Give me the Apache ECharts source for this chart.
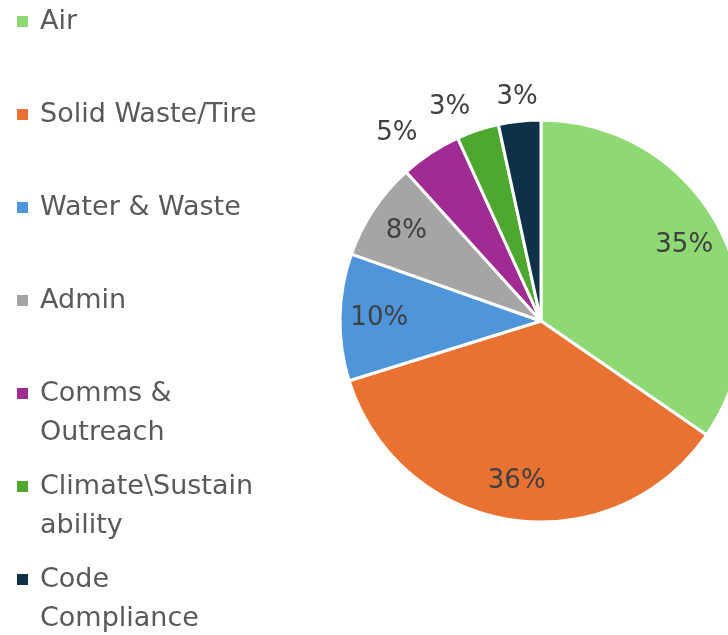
<!DOCTYPE html>
<html>
<head>
<meta charset="utf-8">
<script src="https://cdn.jsdelivr.net/npm/echarts@6/dist/echarts.min.js"></script>
<style>
  html, body { margin: 0; padding: 0; background: #fff; }
  #chart { width: 728px; height: 635px; }
</style>
</head>
<body>
<div id="chart"></div>
<script>
const CATEGORIES = ['Air', 'Solid Waste/Tire', 'Water & Waste', 'Admin', 'Comms & Outreach', 'Climate\\Sustainability', 'Code Compliance'];
const LEGEND_LABELS = ['Air', 'Solid Waste/Tire', 'Water & Waste', 'Admin', 'Comms &\nOutreach', 'Climate\\Sustain\nability', 'Code\nCompliance'];
const SHARES = [34.6, 35.6, 10.2, 7.9, 4.9, 3.4, 3.4];
const COLORS = ['#8ED973', '#E97132', '#4E95D9', '#A5A5A5', '#A02B93', '#4EA72E', '#0E3148'];
// slices too thin for an inside label get it outside, like Excel did
const OUTSIDE = [false, false, false, false, true, true, true];

const FONT = '"DejaVu Sans", sans-serif';
const CX = 541, CY = 321, R = 201;

const chart = echarts.init(document.getElementById('chart'));

// every legend entry is padded to three lines so the first text line sits on the icon
function legendText(name) {
    const lines = LEGEND_LABELS[CATEGORIES.indexOf(name)].split('\n');
    return '\n' + lines.join('\n') + (lines.length === 1 ? '\n' : '');
}

chart.setOption({
    animation: false,
    legend: {
        orient: 'vertical',
        left: 15,
        top: -37,
        height: 800,
        padding: 0,
        itemGap: -24,
        itemWidth: 13,
        itemHeight: 13,
        icon: 'rect',
        data: CATEGORIES,
        formatter: legendText,
        textStyle: { fontFamily: FONT, fontSize: 27, color: '#595959', lineHeight: 39, padding: [0, 0, 0, 6] },
        selectedMode: false,
    },
    series: [{
        type: 'pie',
        center: [CX, CY],
        radius: [0, R],
        startAngle: 90,
        label: { show: false },
        labelLine: { show: false },
        itemStyle: { borderColor: '#fff', borderWidth: 3 },
        emphasis: { disabled: true },
        data: CATEGORIES.map((n, i) => ({ name: n, value: SHARES[i], itemStyle: { color: COLORS[i] } })),
    }, {
        // transparent ring only used to put the labels at ~0.8 r
        type: 'pie',
        center: [CX, CY],
        radius: [R * 0.58, R],
        startAngle: 90,
        silent: true,
        percentPrecision: 0,
        avoidLabelOverlap: false,
        itemStyle: { color: 'rgba(0,0,0,0)' },
        label: { fontFamily: FONT, fontSize: 26, color: '#404040', formatter: '{d}%', distanceToLabelLine: 0 },
        labelLine: { show: false, length: 24, length2: 0 },
        labelLayout: (p) => p.dataIndex === 6 ? { align: 'center' } : {},
        data: CATEGORIES.map((n, i) => ({
            name: n,
            value: SHARES[i],
            label: { position: OUTSIDE[i] ? 'outside' : 'inside' },
        })),
    }],
});
</script>
</body>
</html>
